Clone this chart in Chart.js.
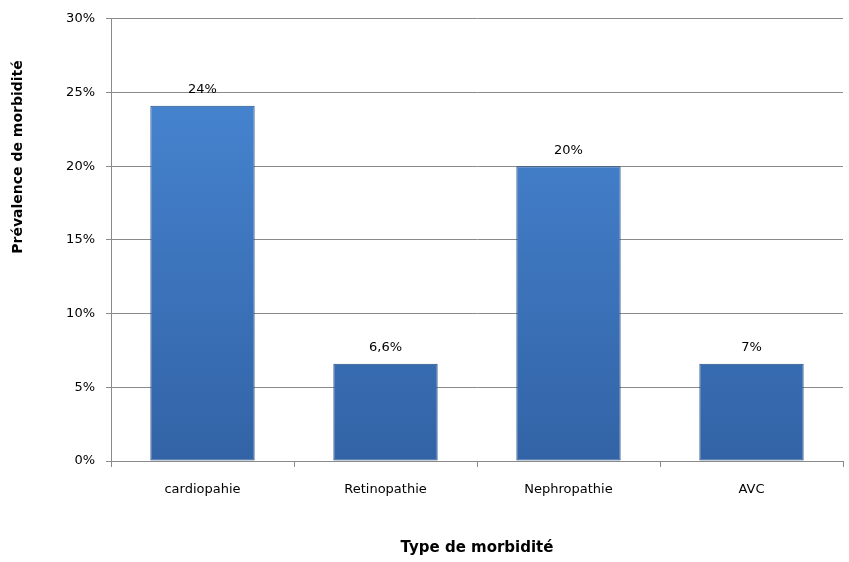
<!DOCTYPE html>
<html>
<head>
<meta charset="utf-8">
<script src="https://cdn.jsdelivr.net/npm/chart.js@4"></script>
<style>
  html, body { margin: 0; padding: 0; background: #fff; }
  #wrap { width: 849px; height: 562px; }
</style>
</head>
<body>
<div id="wrap"><canvas id="morbidite"></canvas></div>
<script>
// Données du graphique "Type de morbidité"
const categories = ["cardiopahie", "Retinopathie", "Nephropathie", "AVC"];
const prevalence = [24.1, 6.6, 20, 6.6];
const etiquettes = ["24%", "6,6%", "20%", "7%"];
const yTicks = [0, 5, 10, 15, 20, 25, 30];

const police = "'DejaVu Sans', Verdana, sans-serif";
const gris = '#8a8a8a';

// dégradé vertical des barres
function couleurBarre(ctx) {
    const area = ctx.chart.chartArea;
    if (!area) return '#3f78c4';
    const g = ctx.chart.ctx.createLinearGradient(0, area.top, 0, area.bottom);
    g.addColorStop(0, '#4a8ad8');
    g.addColorStop(1, '#3263a6');
    return g;
}

// étiquettes au-dessus des barres
const etiquettesPlugin = {
    id: 'etiquettes',
    afterDatasetsDraw(chart) {
        const c = chart.ctx;
        const meta = chart.getDatasetMeta(0);
        c.save();
        c.font = '13px ' + police;
        c.fillStyle = '#000';
        c.textAlign = 'center';
        c.textBaseline = 'middle';
        meta.data.forEach((bar, i) => {
            c.fillText(etiquettes[i], bar.x, bar.y - 16);
        });
        c.restore();
    }
};

// titre de l'axe vertical
const titreYPlugin = {
    id: 'titreY',
    afterDraw(chart) {
        const c = chart.ctx;
        c.save();
        c.translate(18, 157);
        c.rotate(-Math.PI / 2);
        c.font = 'bold 14px ' + police;
        c.fillStyle = '#000';
        c.textAlign = 'center';
        c.textBaseline = 'middle';
        c.fillText('Prévalence de morbidité', 0, 0);
        c.restore();
    }
};

const config = {
    type: 'bar',
    data: {
        labels: categories,
        datasets: [{
            label: 'Prévalence',
            data: prevalence,
            backgroundColor: couleurBarre,
            borderColor: '#22497c',
            borderWidth: 1,
            borderSkipped: false,
            barPercentage: 0.57,
            categoryPercentage: 1
        }]
    },
    options: {
        responsive: true,
        maintainAspectRatio: false,
        animation: false,
        layout: { padding: { top: 18, right: 6, left: 0, bottom: 0 } },
        plugins: {
            legend: { display: false },
            tooltip: { enabled: false },
            title: { display: false }
        },
        scales: {
            x: {
                afterFit(scale) { scale.height = 101; },
                grid: {
                    offset: true,
                    drawOnChartArea: false,
                    drawTicks: true,
                    tickLength: 6,
                    color: gris
                },
                border: { color: gris },
                ticks: {
                    color: '#000',
                    font: { family: police, size: 13 },
                    padding: 15
                },
                title: {
                    display: true,
                    text: 'Type de morbidité',
                    color: '#000',
                    font: { family: police, size: 15, weight: 'bold' },
                    padding: { top: 0, bottom: 5 }
                }
            },
            y: {
                min: 0,
                max: 30,
                afterFit(scale) { scale.width = 111; },
                afterBuildTicks(scale) {
                    scale.ticks = yTicks.map(v => ({ value: v }));
                },
                grid: {
                    color: gris,
                    tickLength: 5
                },
                border: { color: gris },
                ticks: {
                    color: '#000',
                    font: { family: police, size: 13 },
                    padding: 11,
                    callback: v => v + '%'
                }
            }
        }
    },
    plugins: [etiquettesPlugin, titreYPlugin]
};

new Chart(document.getElementById('morbidite'), config);
</script>
</body>
</html>
